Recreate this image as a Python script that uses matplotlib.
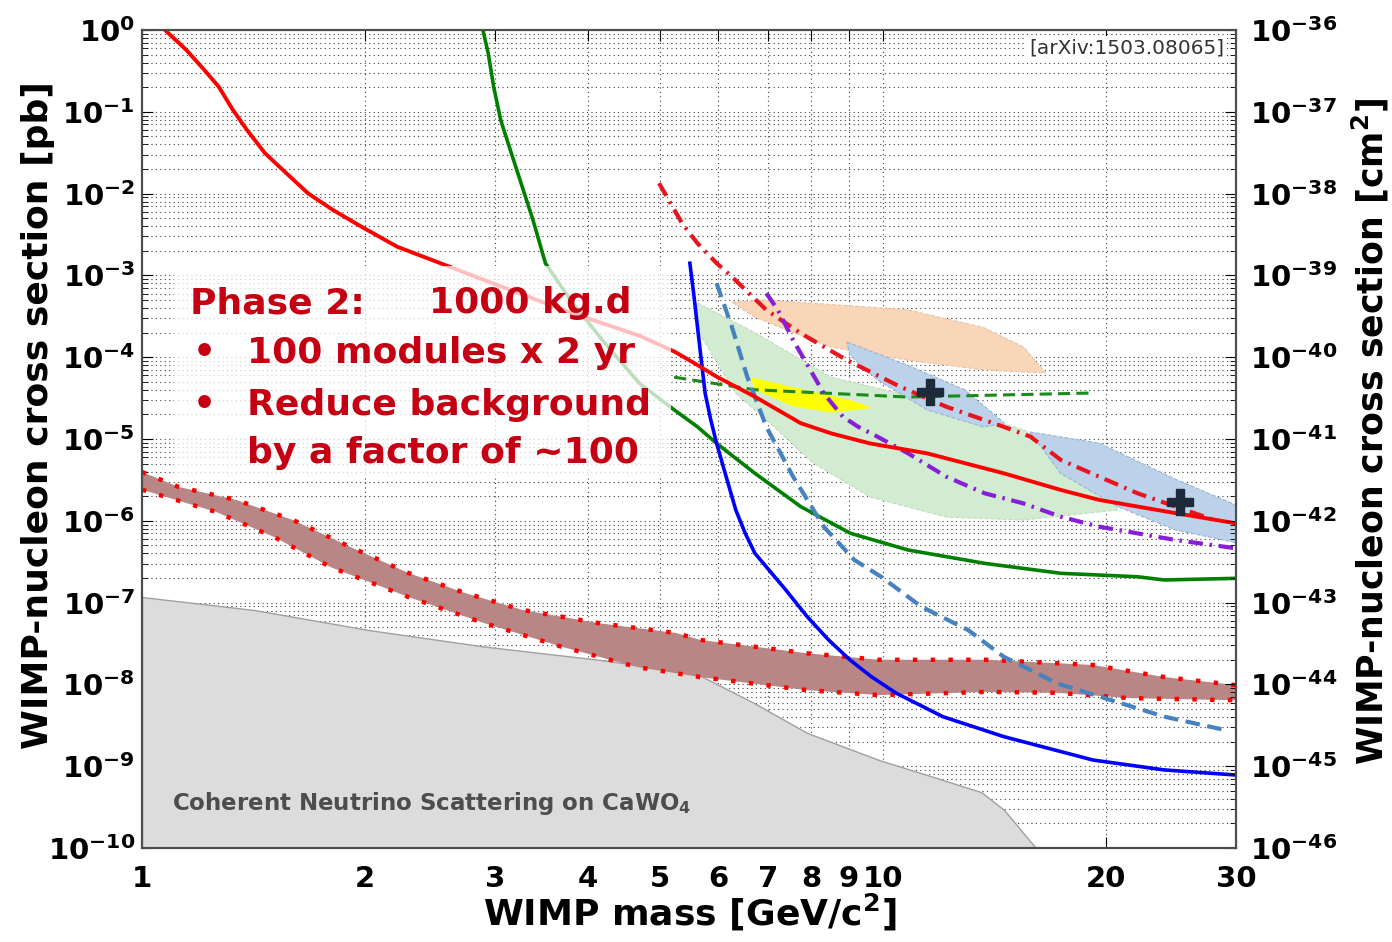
import numpy as np
import matplotlib
matplotlib.use("Agg")
import matplotlib.pyplot as plt
from matplotlib.ticker import FixedLocator, FixedFormatter, LogLocator, NullLocator, NullFormatter
from matplotlib.patches import Rectangle

plt.rcParams['font.family'] = 'DejaVu Sans'
plt.rcParams['font.weight'] = 'bold'
plt.rcParams['mathtext.fontset'] = 'custom'
plt.rcParams['mathtext.rm'] = 'DejaVu Sans:bold'
plt.rcParams['mathtext.it'] = 'DejaVu Sans:bold'
plt.rcParams['mathtext.bf'] = 'DejaVu Sans:bold'
plt.rcParams['mathtext.default'] = 'rm'

# --- data (WIMP mass in GeV/c^2, cross section in pb) ---
red_m = [1.074, 1.148, 1.214, 1.269, 1.327, 1.386, 1.466, 1.550, 1.675, 1.811, 1.978, 2.211, 2.498,
         3.016, 3.772, 4.704, 5.235, 5.623, 5.968, 6.722, 7.752, 8.526, 9.603, 11.48, 14.57, 17.41,
         19.61, 24.88, 30.0]
red_s = [1.0, 0.569, 0.324, 0.203, 0.105, 0.0599, 0.0311, 0.0194, 0.0101, 6.3e-3, 3.94e-3, 2.24e-3,
         1.47e-3, 7.63e-4, 3.57e-4, 1.82e-4, 1.17e-4, 8.03e-5, 5.78e-5, 3.29e-5, 1.56e-5, 1.17e-5,
         8.85e-6, 6.68e-6, 3.81e-6, 2.38e-6, 1.80e-6, 1.24e-6, 9.31e-7]

green_m = [2.886, 2.934, 2.984, 3.050, 3.153, 3.261, 3.372, 3.505, 3.788, 4.217, 4.694, 5.235, 5.623,
           5.968, 6.722, 7.752, 9.05, 10.82, 13.73, 17.41, 22.09, 24.01, 30.0]
green_s = [1.0, 0.519, 0.2026, 0.0794, 0.0311, 0.01215, 4.76e-3, 1.41e-3, 5.0e-4, 1.48e-4, 4.8e-5,
           2.26e-5, 1.41e-5, 8.85e-6, 3.81e-6, 1.49e-6, 7.03e-7, 4.40e-7, 3.02e-7, 2.28e-7, 2.07e-7,
           1.89e-7, 1.98e-7]

blue_m = [5.492, 5.557, 5.623, 5.690, 5.759, 5.861, 5.968, 6.148, 6.334, 6.524, 6.722, 7.399, 7.909,
          8.456, 9.036, 9.658, 10.44, 12.06, 14.57, 19.23, 24.01, 30.0]
blue_s = [1.41e-3, 6.04e-4, 2.36e-4, 9.24e-5, 3.62e-5, 1.71e-5, 8.85e-6, 3.46e-6, 1.36e-6, 7.03e-7,
          4.01e-7, 1.43e-7, 6.73e-8, 3.49e-8, 1.99e-8, 1.24e-8, 7.78e-9, 4.03e-9, 2.30e-9, 1.19e-9,
          9.0e-10, 7.8e-10]

cdms_m = [5.968, 6.257, 6.564, 6.966, 7.571, 8.328, 9.158, 9.954, 11.28, 13.04, 14.57, 17.20, 20.32,
          24.01, 29.0]
cdms_s = [8.0e-4, 2.36e-4, 5.78e-5, 1.41e-5, 3.46e-6, 8.47e-7, 3.32e-7, 2.07e-7, 8.91e-8, 4.62e-8,
          2.18e-8, 1.03e-8, 6.44e-9, 4.03e-9, 2.77e-9]

rdd_m = [4.990, 5.173, 5.361, 5.623, 5.968, 6.257, 6.966, 7.752, 8.945, 10.56, 12.19, 14.57, 15.83,
         17.41, 19.61, 22.09, 28.03]
rdd_s = [1.34e-2, 7.61e-3, 4.33e-3, 2.47e-3, 1.41e-3, 9.64e-4, 3.78e-4, 1.96e-4, 9.24e-5, 4.36e-5,
         2.48e-5, 1.41e-5, 1.07e-5, 5.53e-6, 3.46e-6, 2.17e-6, 1.02e-6]

pdd_m = [6.966, 7.220, 7.571, 7.940, 8.328, 8.838, 9.268, 9.836, 10.82, 12.19, 13.73, 15.46, 17.41,
         19.61, 24.88, 30.0]
pdd_s = [6.04e-4, 3.78e-4, 1.62e-4, 7.65e-5, 3.62e-5, 1.87e-5, 1.41e-5, 1.07e-5, 6.68e-6, 3.46e-6,
         2.17e-6, 1.64e-6, 1.12e-6, 8.47e-7, 5.82e-7, 4.61e-7]

gdash_m = [5.23, 6.72, 10.8, 19.2]
gdash_s = [5.7e-5, 4.0e-5, 3.26e-5, 3.65e-5]

orange_m = [6.26, 6.96, 10.8, 13.7, 15.5, 16.6, 13.7, 10.8, 8.52, 7.57, 6.72]
orange_s = [4.7e-4, 5.0e-4, 3.8e-4, 2.3e-4, 1.33e-4, 6.4e-5, 7.0e-5, 9.2e-5, 1.33e-4, 2.0e-4, 3.1e-4]

lgreen_m = [5.62, 6.72, 8.52, 11.5, 15.5, 19.6, 20.8, 15.5, 12.2, 9.62, 8.03, 7.14, 6.34, 5.62]
lgreen_s = [4.6e-4, 2.0e-4, 5.7e-5, 3.0e-5, 1.29e-5, 4.2e-6, 1.36e-6, 1.02e-6, 1.11e-6, 1.95e-6,
            5.2e-6, 1.4e-5, 3.6e-5, 2.15e-4]

yellow_m = [6.64, 7.57, 9.03, 9.71, 8.52, 7.57, 6.72]
yellow_s = [5.7e-5, 4.3e-5, 3.0e-5, 2.4e-5, 2.1e-5, 2.5e-5, 4.0e-5]

ell1_m = [8.95, 10.8, 12.9, 14.6, 13.7, 11.5, 9.83, 9.03]
ell1_s = [1.53e-4, 8.0e-5, 4.0e-5, 1.57e-5, 1.4e-5, 2.26e-5, 5.3e-5, 1.06e-4]

ell2_m = [15.8, 19.6, 24.9, 30, 30, 24.9, 20.8, 17.4]
ell2_s = [1.22e-5, 8.9e-6, 3.2e-6, 1.56e-6, 5.4e-7, 7.7e-7, 1.48e-6, 3.8e-6]

best_m = [11.6, 25.2]
best_s = [3.76e-5, 1.7e-6]

band_up_m = [1.0, 1.12, 1.34, 1.60, 1.91, 2.29, 2.73, 3.27, 4.14, 5.26, 5.67, 7.91, 9.89, 13.8, 19.2, 24.0, 30]
band_up_s = [3.95e-6, 2.6e-6, 1.8e-6, 1.02e-6, 4.8e-7, 2.3e-7, 1.31e-7, 8.1e-8, 5.6e-8, 4.25e-8,
             3.5e-8, 2.4e-8, 2.0e-8, 2.0e-8, 1.73e-8, 1.23e-8, 9.8e-9]
band_lo_m = [1.0, 1.26, 1.51, 1.80, 2.29, 2.90, 3.68, 4.66, 5.67, 7.91, 9.89, 13.8, 17.2, 21.5, 30]
band_lo_s = [2.4e-6, 1.28e-6, 6.3e-7, 2.7e-7, 1.17e-7, 5.6e-8, 2.9e-8, 1.63e-8, 1.23e-8, 8.5e-9,
             7.4e-9, 8.1e-9, 7.9e-9, 6.8e-9, 6.4e-9]

floor_m = [1.0, 1.42, 2.03, 2.90, 4.14, 5.58, 6.71, 7.91, 9.89, 11.7, 13.6, 14.6, 16.1]
floor_s = [1.17e-7, 8.1e-8, 4.6e-8, 2.9e-8, 2.0e-8, 1.38e-8, 5.9e-9, 2.55e-9, 1.19e-9, 7.4e-10,
           4.8e-10, 2.9e-10, 1.0e-10]

xticks = [1, 2, 3, 4, 5, 6, 7, 8, 9, 10, 20, 30]
ydecades = list(range(0, -11, -1))
ydecades_cm = list(range(-36, -47, -1))

# --- figure ---
fig = plt.figure(figsize=(13.92, 9.42), dpi=100)
ax = fig.add_axes([142 / 1392, 94 / 942, 1094 / 1392, 818 / 942])
ax.set_xscale('log')
ax.set_yscale('log')
ax.set_xlim(1, 30)
ax.set_ylim(1e-10, 1)
ax.set_axisbelow(True)

ax.xaxis.set_major_locator(FixedLocator(xticks))
ax.xaxis.set_major_formatter(FixedFormatter([str(t) for t in xticks]))
ax.xaxis.set_minor_locator(NullLocator())
ax.yaxis.set_major_locator(FixedLocator([10.0 ** d for d in ydecades]))
ax.yaxis.set_major_formatter(FixedFormatter([r'$10^{%d}$' % d for d in ydecades]))
ax.yaxis.set_minor_locator(LogLocator(base=10, subs=np.arange(2, 10), numticks=30))
ax.yaxis.set_minor_formatter(NullFormatter())

grid_kw = dict(color='0.25', linestyle=(0, (1, 3)), linewidth=0.8)
ax.grid(True, which='major', axis='x', **grid_kw)
ax.grid(True, which='both', axis='y', **grid_kw)

ax.tick_params(which='both', direction='in', top=True, right=False)
ax.tick_params(axis='y', labelsize=21, pad=5, length=8)
ax.tick_params(axis='y', which='minor', length=4)
ax.tick_params(axis='x', labelsize=21, pad=12, length=8)
for sp in ax.spines.values():
    sp.set_color('0.3')
    sp.set_linewidth(1.5)

# regions
ax.fill_between(floor_m, 1e-12, floor_s, color='#dcdcdc', edgecolor='#a0a0a0', linewidth=1.0, zorder=1)
ax.fill(band_up_m + band_lo_m[::-1], band_up_s + band_lo_s[::-1], color='#b98686', linewidth=0, zorder=2)
ax.plot(band_up_m, band_up_s, color='#ff0000', lw=3.2, ls=(0, (1, 3)), zorder=3)
ax.plot(band_lo_m, band_lo_s, color='#ff0000', lw=3.2, ls=(0, (1, 3)), zorder=3)

ax.fill(lgreen_m, lgreen_s, facecolor='#d2ecd2', edgecolor='#c0dcc0', lw=0.8, ls='--', zorder=2)
ax.fill(orange_m, orange_s, facecolor='#fad6b8', edgecolor='#e8c4a8', lw=0.8, ls='--', zorder=2)
ax.fill(yellow_m, yellow_s, facecolor='#ffff00', edgecolor='none', zorder=2.5)
ax.fill(ell1_m, ell1_s, facecolor='#bcd2ea', edgecolor='#98b4d0', lw=0.8, ls='--', zorder=2.6)
ax.fill(ell2_m, ell2_s, facecolor='#bcd2ea', edgecolor='#98b4d0', lw=0.8, ls='--', zorder=2.6)

# limit curves
ax.plot(green_m, green_s, color='#008000', lw=2.6, zorder=4)
ax.plot(gdash_m, gdash_s, color='#1a8a1a', lw=2.2, ls=(0, (4, 2)), zorder=4)
ax.plot(cdms_m, cdms_s, color='#4682c0', lw=3.0, ls=(0, (3.5, 1.8)), zorder=4)
ax.plot(rdd_m, rdd_s, color='#e8141e', lw=3.0, ls=(0, (3.5, 1.6, 0.6, 1.6)), zorder=4)
ax.plot(pdd_m, pdd_s, color='#8a1ed8', lw=3.0, ls=(0, (3.5, 1.6, 0.6, 1.6)), zorder=4)
ax.plot(blue_m, blue_s, color='#0000ff', lw=2.6, zorder=4.2)
ax.plot(red_m, red_s, color='#ff0000', lw=2.8, zorder=4.3)
ax.plot(best_m, best_s, ls='none', marker='P', ms=19, color='#1c2a3a', zorder=5)


def axf(px, py):
    return (px - 142) / 1094, (848 - py) / 818


# semi-transparent box behind the text
x0, y0 = axf(174, 478)
x1, y1 = axf(671, 266)
ax.add_patch(Rectangle((x0, y0), x1 - x0, y1 - y0, transform=ax.transAxes,
                       facecolor='white', edgecolor='none', alpha=0.75, zorder=6))

tcol = '#c40012'
tk = dict(transform=ax.transAxes, color=tcol, fontsize=26, fontweight='bold',
          va='baseline', ha='left', zorder=7)
ax.text(*axf(190, 313), 'Phase 2:', **tk)
ax.text(*axf(429, 313), '1000 kg.d', **tk)
ax.text(*axf(193, 363), '•', **tk)
ax.text(*axf(247, 363), '100 modules x 2 yr', **tk)
ax.text(*axf(193, 415), '•', **tk)
ax.text(*axf(247, 415), 'Reduce background', **tk)
ax.text(*axf(247, 463), 'by a factor of ~100', **tk)

ax.text(*axf(172, 810), r'Coherent Neutrino Scattering on CaWO$_4$', transform=ax.transAxes,
        color='#4d4d4d', fontsize=16.5, fontweight='bold', va='baseline', ha='left', zorder=7)

ax.text(*axf(1224, 48), '[arXiv:1503.08065]', transform=ax.transAxes, fontsize=14.5,
        fontweight='normal', color='#333333', ha='right', va='center', zorder=7,
        bbox=dict(facecolor='white', edgecolor='none', pad=2))

ax.set_xlabel(r'WIMP mass [GeV/c$^2$]', fontsize=26, fontweight='bold')
ax.xaxis.set_label_coords(0.501, -0.0538)
ax.set_ylabel('WIMP-nucleon cross section [pb]', fontsize=26, fontweight='bold')
ax.yaxis.set_label_coords(-0.0795, 0.529)

# right axis in cm^2
ax2 = ax.twinx()
ax2.set_yscale('log')
ax2.set_ylim(1e-46, 1e-36)
ax2.yaxis.set_major_locator(FixedLocator([10.0 ** d for d in ydecades_cm]))
ax2.yaxis.set_major_formatter(FixedFormatter([r'$10^{%d}$' % d for d in ydecades_cm]))
ax2.yaxis.set_minor_locator(LogLocator(base=10, subs=np.arange(2, 10), numticks=30))
ax2.yaxis.set_minor_formatter(NullFormatter())
ax2.tick_params(which='both', direction='in')
ax2.tick_params(axis='y', labelsize=21, pad=10, length=8)
ax2.tick_params(axis='y', which='minor', length=4)
ax2.set_ylabel(r'WIMP-nucleon cross section [cm$^2$]', fontsize=25, fontweight='bold', rotation=90)
ax2.yaxis.set_label_coords(1.104, 0.509)
for sp in ax2.spines.values():
    sp.set_color('0.3')
    sp.set_linewidth(1.5)

fig.savefig('out.png', dpi=100)
